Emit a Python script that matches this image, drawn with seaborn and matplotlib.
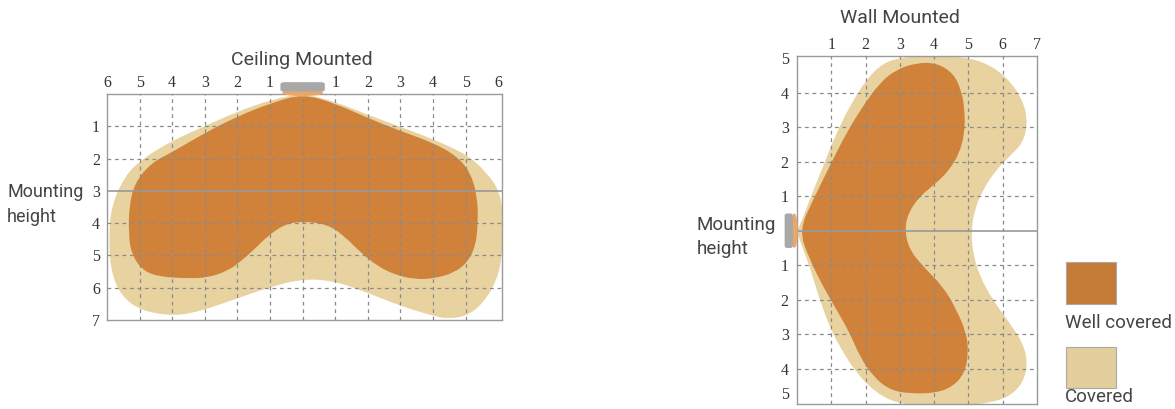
import numpy as np
import seaborn as sns
import matplotlib
matplotlib.use("Agg")
import matplotlib.pyplot as plt
from matplotlib.patches import FancyBboxPatch, Ellipse, Rectangle, PathPatch
from matplotlib.path import Path

# outlines (x = distance, y = depth/height)
ceil_covered_x = [0, 0.97, 1.99, 3.01, 4.03, 5.05, 5.66, 6.07, 6.17, 6.12, 5.97, 5.56, 5.05, 4.44, 4.03,
                  3.01, 1.99, 0.97, 0, -1.07, -2.09, -3.11, -3.93, -4.95, -5.56, -5.87, -5.95, -5.87,
                  -5.46, -4.95, -4.03, -3.01, -1.99, -0.97]
ceil_covered_y = [-0.02, 0.23, 0.64, 1.02, 1.41, 1.88, 2.44, 3.06, 3.99, 5.02, 5.74, 6.46, 6.88, 6.96, 6.88,
                  6.57, 6.15, 5.79, 5.72, 6.0, 6.36, 6.72, 6.88, 6.72, 6.26, 5.54, 4.51, 3.47,
                  2.55, 2.03, 1.46, 1.0, 0.54, 0.18]
ceil_well_x = [0, 0.97, 1.99, 3.01, 4.03, 4.74, 5.15, 5.36, 5.38, 5.31, 5.05, 4.64, 4.03, 3.42, 2.81,
               2.30, 1.79, 1.28, 0.77, 0, -0.56, -1.07, -1.48, -1.89, -2.30, -2.91, -3.52, -4.44,
               -4.95, -5.26, -5.34, -5.32, -5.15, -4.64, -4.03, -3.01, -1.99, -0.97]
ceil_well_y = [0.0, 0.28, 0.74, 1.15, 1.52, 1.93, 2.44, 3.16, 3.99, 4.71, 5.23, 5.54, 5.72, 5.74, 5.59,
               5.33, 4.92, 4.40, 4.04, 3.94, 4.04, 4.40, 4.81, 5.18, 5.48, 5.69, 5.71, 5.66,
               5.43, 4.92, 4.30, 3.47, 2.75, 2.13, 1.82, 1.21, 0.69, 0.28]

wall_covered_x = [-0.02, 0.08, 0.37, 0.76, 1.15, 1.54, 2.02, 2.51, 3.09, 3.87, 4.65, 5.42, 6.10, 6.59, 6.73,
                  6.59, 6.20, 5.81, 5.42, 5.18, 5.08, 5.13, 5.33, 5.71, 6.20, 6.59, 6.73, 6.59, 6.20,
                  5.62, 4.65, 3.67, 2.90, 2.31, 1.73, 1.24, 0.95, 0.66, 0.37, 0.08]
wall_covered_y = [0, 0.13, 0.90, 1.87, 2.84, 3.61, 4.39, 4.87, 5.04, 5.08, 5.06, 4.92, 4.48, 3.80, 3.13,
                  2.55, 2.16, 1.77, 1.19, 0.61, 0, -0.65, -1.33, -2.01, -2.68, -3.26, -3.84, -4.42, -4.81,
                  -5.0, -5.10, -5.10, -5.0, -4.71, -4.13, -3.36, -2.78, -2.0, -1.04, -0.26]
wall_well_x = [0.06, 0.47, 0.95, 1.44, 1.92, 2.41, 2.90, 3.48, 4.06, 4.55, 4.79, 4.89, 4.89, 4.74, 4.45,
               4.06, 3.58, 3.24, 3.14, 3.28, 3.67, 4.26, 4.65, 4.94, 5.0, 4.89, 4.55, 4.06, 3.28,
               2.70, 2.22, 1.83, 1.54, 1.15, 0.76, 0.37]
wall_well_y = [0, 0.90, 1.87, 2.84, 3.61, 4.29, 4.68, 4.87, 4.87, 4.58, 4.09, 3.51, 2.84, 2.26, 1.77,
               1.38, 1.0, 0.51, 0, -0.55, -1.03, -1.62, -2.29, -2.97, -3.55, -4.13, -4.52, -4.71, -4.73,
               -4.62, -4.23, -3.65, -2.97, -2.29, -1.62, -0.84]

ceil_xticks = [-6, -5, -4, -3, -2, -1, 1, 2, 3, 4, 5, 6]
ceil_xlabels = ["6", "5", "4", "3", "2", "1", "1", "2", "3", "4", "5", "6"]
ceil_yticks = [1, 2, 3, 4, 5, 6, 7]
wall_xticks = [1, 2, 3, 4, 5, 6, 7]
wall_yticks = [5, 4, 3, 2, 1, -1, -2, -3, -4, -5]
wall_ylabels = ["5", "4", "3", "2", "1", "1", "2", "3", "4", "5"]

WELL = "#D0823A"
COVERED = "#E8D3A0"
GRID = "#8a8a8a"
LAMP = "#A8A8A8"
TEXT = "#444444"

sns.set_theme(style="white")
plt.rcParams["font.family"] = ["Roboto", "DejaVu Sans"]
TICKFONT = "Liberation Serif"

fig = plt.figure(figsize=(11.75, 4.09), dpi=100)


def blob(ax, xs, ys, color, z):
    # smooth closed outline: the read points act as quadratic control points
    pts = np.column_stack([xs, ys])
    mids = (pts + np.roll(pts, -1, axis=0)) / 2
    verts = [mids[-1]]
    codes = [Path.MOVETO]
    for p, m in zip(pts, mids):
        verts += [p, m]
        codes += [Path.CURVE3, Path.CURVE3]
    ax.add_patch(PathPatch(Path(verts, codes), facecolor=color, lw=0, zorder=z))


def style_axes(ax):
    for s in ax.spines.values():
        s.set_color("#9a9a9a")
        s.set_linewidth(1.0)
    ax.tick_params(length=0, pad=2, labelsize=11.5, colors="#333333")
    for lab in ax.get_xticklabels() + ax.get_yticklabels():
        lab.set_family(TICKFONT)


# ceiling mounted
ax1 = fig.add_axes([0.0911, 0.2176, 0.3362, 0.5526])
blob(ax1, ceil_covered_x, ceil_covered_y, COVERED, 1)
blob(ax1, ceil_well_x, ceil_well_y, WELL, 2)
for x in range(-5, 6):
    ax1.axvline(x, color=GRID, ls=(0, (3, 3)), lw=0.9, zorder=3)
for y in range(1, 7):
    if y == 3:
        ax1.axhline(y, color="#999999", lw=1.2, zorder=3)
    else:
        ax1.axhline(y, color=GRID, ls=(0, (3, 3)), lw=0.9, zorder=3)
ax1.set_xlim(-6, 6.12)
ax1.set_ylim(6.96, 0)
ax1.xaxis.tick_top()
ax1.set_xticks(ceil_xticks)
ax1.set_xticklabels(ceil_xlabels)
ax1.set_yticks(ceil_yticks)
style_axes(ax1)
ax1.tick_params(axis="y", pad=5)
ax1.add_patch(Ellipse((0, -0.04), 1.2, 0.16, color="#E9A868", clip_on=False, zorder=4))
ax1.add_patch(FancyBboxPatch((-0.62, -0.32), 1.24, 0.2, boxstyle="round,pad=0.04,rounding_size=0.08",
                             color=LAMP, clip_on=False, zorder=5, mutation_aspect=0.6))
fig.text(0.257, 0.853, "Ceiling Mounted", ha="center", va="center", fontsize=14, color=TEXT)
fig.text(0.006, 0.501, "Mounting\nheight", ha="left", va="center", fontsize=13, color=TEXT,
         linespacing=1.5)

# wall mounted
ax2 = fig.add_axes([0.6783, 0.0122, 0.2043, 0.8509])
blob(ax2, wall_covered_x, wall_covered_y, COVERED, 1)
blob(ax2, wall_well_x, wall_well_y, WELL, 2)
for x in range(1, 7):
    ax2.axvline(x, color=GRID, ls=(0, (3, 3)), lw=0.9, zorder=3)
for y in range(-4, 5):
    if y == 0:
        ax2.axhline(y, color="#999999", lw=1.2, zorder=3)
    else:
        ax2.axhline(y, color=GRID, ls=(0, (3, 3)), lw=0.9, zorder=3)
ax2.set_xlim(0, 7)
ax2.set_ylim(-5.03, 5.07)
ax2.xaxis.tick_top()
ax2.set_xticks(wall_xticks)
ax2.set_yticks(wall_yticks)
ax2.set_yticklabels(wall_ylabels)
style_axes(ax2)
ax2.tick_params(axis="y", pad=6)
ax2.get_yticklabels()[-1].set_va("bottom")
ax2.add_patch(Ellipse((-0.08, 0), 0.16, 0.95, color="#E9A868", clip_on=False, zorder=4))
ax2.add_patch(FancyBboxPatch((-0.32, -0.46), 0.16, 0.92, boxstyle="round,pad=0.02,rounding_size=0.05",
                             color=LAMP, clip_on=False, zorder=5))
fig.text(0.766, 0.956, "Wall Mounted", ha="center", va="center", fontsize=14, color=TEXT)
fig.text(0.593, 0.42, "Mounting\nheight", ha="left", va="center", fontsize=13.5, color=TEXT,
         linespacing=1.4)

# legend
fig.patches.append(Rectangle((0.9075, 0.257), 0.0425, 0.103, transform=fig.transFigure,
                             facecolor="#C47B36", edgecolor="#aaaaaa", lw=0.8))
fig.patches.append(Rectangle((0.9075, 0.051), 0.0425, 0.100, transform=fig.transFigure,
                             facecolor="#E3CE9C", edgecolor="#aaaaaa", lw=0.8))
fig.text(0.906, 0.21, "Well covered", ha="left", va="center", fontsize=13.5, color=TEXT)
fig.text(0.906, 0.03, "Covered", ha="left", va="center", fontsize=13.5, color=TEXT)

fig.savefig("out.png", dpi=100)
